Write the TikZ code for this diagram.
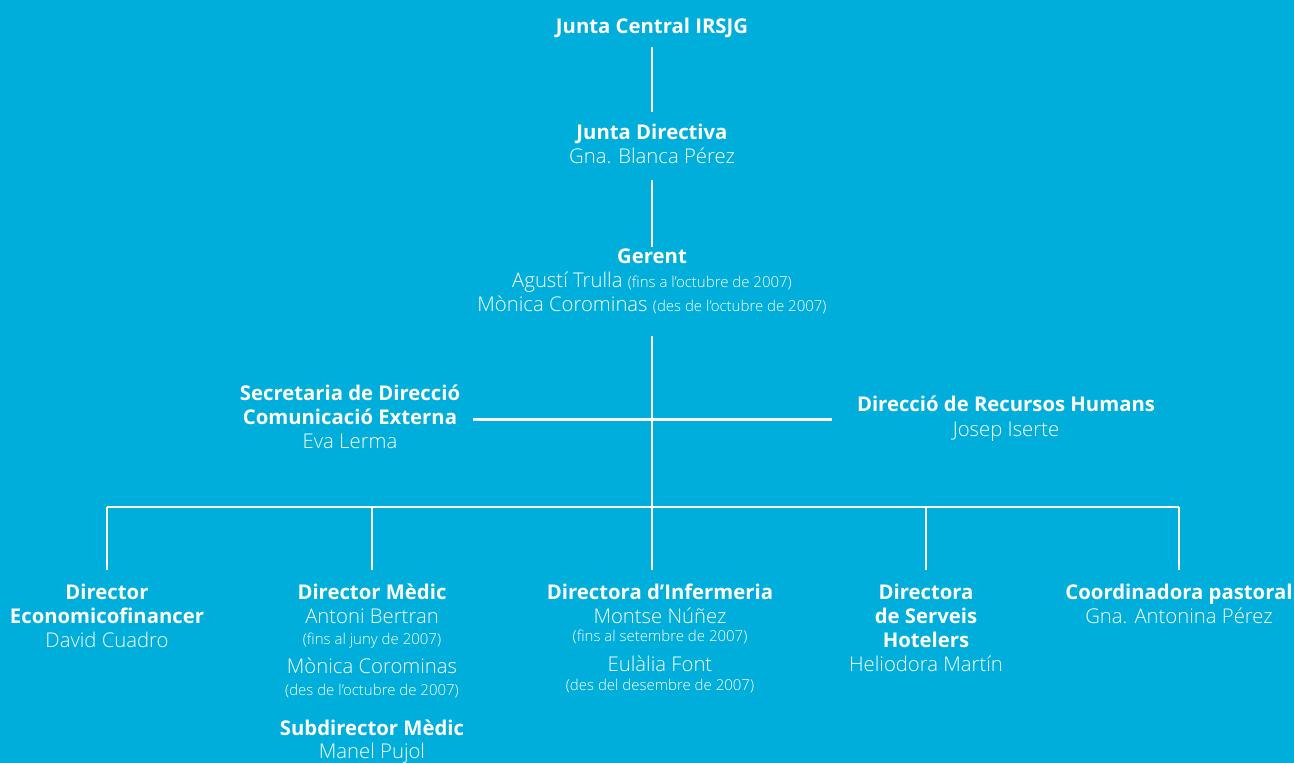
\documentclass[tikz,border=0pt]{standalone}
\usepackage{fontspec}
\setmainfont{Open Sans}
\IfFontExistsTF{Open Sans Light}{\newfontfamily\namefont[Ligatures=TeX]{Open Sans Light}}{\newfontfamily\namefont[Ligatures=TeX]{Open Sans}}
\definecolor{orgcyan}{HTML}{00AEDB}
\newcommand{\when}[1]{{\namefont\fontsize{15}{16}\selectfont #1}}

\begin{document}
\begin{tikzpicture}[x=1pt, y=-1pt,
		every node/.style={text=white, align=center, inner sep=0pt, anchor=north,
			font=\fontsize{20.3}{24}\selectfont,
			execute at begin node=\rule{0pt}{16.5pt}, execute at end node=\rule[-6pt]{0pt}{6pt}},
		link/.style={draw=white, line width=2.8pt}]
				\path[use as bounding box, fill=orgcyan] (0,0) rectangle (1294,763);
				\node (jc) at (652,16.5) {\bfseries Junta Central IRSJG};
				\node (jd) at (652,123.5) {\textbf{Junta Directiva}\\ \namefont Gna. Blanca Pérez};
				\node (ger) at (652,248.5) {\textbf{Gerent}\\ \namefont Agustí Trulla \when{(fins a l'octubre de 2007)}\\ \namefont Mònica Corominas \when{(des de l'octubre de 2007)}};
				\node (sec) at (350,384.5) {\textbf{Secretaria de Direcció}\\ \textbf{Comunicació Externa}\\ \namefont Eva Lerma};
				\node (rh) at (1006,395.5) {\textbf{Direcció de Recursos Humans}\\[1pt] \namefont Josep Iserte};
				\coordinate (bus) at (652,507);
				\node (eco) at (107,583.5) {\textbf{Director}\\ \textbf{Economicofinancer}\\ \namefont David Cuadro};
				\node (med) at (372,583.5) {\textbf{Director Mèdic}\\ \namefont Antoni Bertran\\[-3pt] \when{(fins al juny de 2007)}\\[5pt] \namefont Mònica Corominas\\[-2pt] \when{(des de l'octubre de 2007)}};
				\node (sub) at (372,719.5) {\textbf{Subdirector Mèdic}\\[-1pt] \namefont Manel Pujol};
				\node (inf) at (660,583.5) {\textbf{Directora d'Infermeria}\\ \namefont Montse Núñez\\[-6pt] \when{(fins al setembre de 2007)}\\[6pt] \namefont Eulàlia Font\\[-5pt] \when{(des del desembre de 2007)}};
				\node (hot) at (926,583.5) {\textbf{Directora}\\ \textbf{de Serveis}\\ \textbf{Hotelers}\\ \namefont Heliodora Martín};
				\node (pas) at (1179,583.5) {\textbf{Coordinadora pastoral}\\ \namefont Gna. Antonina Pérez};
				\draw[link, shorten <=8pt, shorten >=12pt] (jc) to (jd);
				\draw[link, shorten <=11pt, shorten >=2pt] (jd) to (ger);
				\draw[link, shorten <=18pt] (ger) to (bus);
				\draw[link, shorten <=13pt, shorten >=25pt] (sec.east) to (sec.east -| rh.west);
				\draw[link] (eco.north |- bus) to (pas.north |- bus);
				\draw[link, shorten >=14pt] (eco.north |- bus) to (eco.north);
				\draw[link, shorten >=14pt] (med.north |- bus) to (med.north);
				\draw[link, shorten >=14pt] (bus) to (bus |- inf.north);
				\draw[link, shorten >=14pt] (hot.north |- bus) to (hot.north);
				\draw[link, shorten >=14pt] (pas.north |- bus) to (pas.north);
			\end{tikzpicture}
\end{document}
